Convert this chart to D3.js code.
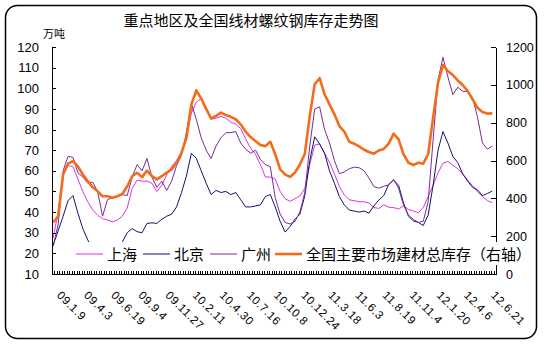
<!DOCTYPE html>
<html>
<head>
<meta charset="utf-8">
<script src="https://cdn.jsdelivr.net/npm/d3@7"></script>
<style>
  html, body { margin: 0; padding: 0; background: #fff; }
  svg { display: block; }
</style>
</head>
<body>
<svg id="chart" width="549" height="345"></svg>
<script>
// Weekly category axis: 180 weeks, one label every 11 weeks
const weekCount = 180;
const labelStep = 11;
const tickLabels = ["09.1.9", "09.4.3", "09.6.19", "09.9.4", "09.11.27", "10.2.11", "10.4.30",
  "10.7.16", "10.10.8", "10.12.24", "11.3.18", "11.6.3", "11.8.19", "11.11.4", "12.1.20",
  "12.4.6", "12.6.21"];

// Series sampled every second week (万吨)
const sampleStep = 2;
const shanghai = [27.5, 40, 58.5, 62.5, 62, 56, 50, 45, 41, 38.5,
  36.8, 36.2, 35.3, 36.2, 38, 42, 51.5, 55.5, 55, 55,
  54, 50, 53, 58, 62, 65, 69, 76, 88, 93.3,
  95, 91, 85, 85.5, 86.4, 85.5, 83.5, 82.6, 80.5, 75.5,
  71, 68, 63, 57, 57, 56, 50, 46.5, 45.2, 46.5,
  47.8, 51.5, 63, 72.5, 73, 68.5, 64.2, 58.5, 52.4, 48.3,
  46, 45.5, 45, 45, 44.5, 42.2, 41.8, 43.5, 42.4, 42.2,
  41.5, 43, 41.3, 40.5, 39.7, 42.2, 47.5, 53, 59, 63.7,
  64.5, 62.8, 61, 58.5, 55.5, 52.8, 49.8, 47.6, 45.6, 44.5];
const beijing = [24, 31, 38, 45.5, 48, 39.5, 32, 26.5, 22, 21,
  21, 21.5, 25.5, 22, 25.5, 30, 32, 30.5, 30, 34.5,
  34.8, 34.5, 36.5, 38, 39, 42.5, 49.5, 57.5, 68.5, 66,
  60, 54, 48.5, 50.5, 49.5, 50, 48.5, 49.5, 46, 42.5,
  42.5, 43, 43.5, 47.5, 48.5, 42.5, 35.5, 30.3, 33, 36.5,
  39, 48, 65, 76.5, 73, 68.5, 60, 54, 47.5, 43.5,
  41, 40.5, 40, 40.5, 39.5, 43, 45.8, 48, 53.5, 55.5,
  53, 44.5, 38, 35.7, 35, 33.5, 38.5, 53, 70, 79,
  73.5, 67, 64, 58.5, 55, 52, 50.8, 48, 49, 50.2];
const guangzhou = [23.5, 34, 60, 67, 66.5, 59, 57, 54, 54.5, 50,
  38, 46, 47, 47.5, 48.5, 48, 57, 63, 60, 66,
  57, 52, 55, 50.5, 55, 62.5, 67.5, 78.5, 92.5, 85,
  76, 70, 66, 72, 76, 78.5, 78.5, 79, 73.5, 70.5,
  68.5, 70, 65.5, 63, 62, 47, 39, 35, 34.2, 35.5,
  40, 49.5, 72, 90, 91, 80, 73.5, 65, 58.6, 59.5,
  61, 61.8, 61.5, 60, 56.5, 52.4, 51.6, 52.5, 53.2, 55.8,
  51.5, 43.5, 38.5, 36.5, 35, 35.5, 45, 75, 104, 115,
  105.5, 97, 100.5, 98.5, 98.5, 95.5, 86, 73.5, 70.5, 72];
// National building-material inventory, right axis (万吨)
const national = [273, 305, 526, 583, 597, 569, 526, 491, 458, 437,
  411, 411, 403, 411, 423, 464, 517, 535, 512, 547,
  517, 500, 517, 536, 553, 588, 641, 720, 897, 971,
  928, 871, 823, 836, 853, 840, 831, 818, 791, 753,
  724, 703, 682, 676, 699, 633, 553, 527, 513, 536,
  579, 636, 836, 1003, 1035, 950, 897, 844, 782, 753,
  699, 689, 675, 657, 645, 636, 653, 661, 689, 742,
  712, 633, 588, 576, 588, 583, 633, 827, 1011, 1105,
  1073, 1052, 1023, 999, 968, 923, 879, 856, 848, 849];

const leftTicks = d3.range(10, 121, 10);
const rightTicks = d3.range(0, 1201, 200);

const titleText = "重点地区及全国线材螺纹钢库存走势图";
const unitText = "万吨";
const seriesInfo = [
  { name: "上海", values: shanghai, color: "#dd33dd", width: 1, axis: "left" },
  { name: "北京", values: beijing, color: "#12126e", width: 1, axis: "left" },
  { name: "广州", values: guangzhou, color: "#7a2a98", width: 1, axis: "left" },
  { name: "全国主要市场建材总库存（右轴）", values: national, color: "#f26c1c", width: 2.6, axis: "right" }
];

const svg = d3.select("#chart");
const latin = "'Liberation Sans', Arial, sans-serif";
const cjk = "'Noto Sans CJK SC', 'Noto Sans', sans-serif";

const plot = { left: 52, right: 496, top: 47, bottom: 274 };

const x = d3.scaleBand().domain(d3.range(weekCount)).range([plot.left, plot.right]);
const xEdge = d3.scaleLinear().domain([0, weekCount]).range([plot.left, plot.right]);
const yL = d3.scaleLinear().domain([10, 120]).range([plot.bottom, plot.top]);
const yR = d3.scaleLinear().domain([0, 1200]).range([plot.bottom, plot.top]);

// Outer frame
svg.append("rect")
  .attr("x", 5.5).attr("y", 5.5).attr("width", 531).attr("height", 333)
  .attr("rx", 12).attr("ry", 12)
  .attr("fill", "#fff").attr("stroke", "#000").attr("stroke-width", 1.5);

// Title
svg.append("text")
  .attr("x", 251).attr("y", 26)
  .attr("text-anchor", "middle")
  .attr("font-family", cjk).attr("font-size", 15)
  .text(titleText);

svg.append("text")
  .attr("x", 43).attr("y", 38)
  .attr("font-family", cjk).attr("font-size", 11)
  .text(unitText);

// Lines
const sx = (d, i) => x(i * sampleStep) + x.bandwidth() / 2;
const gLines = svg.append("g");
seriesInfo.forEach(s => {
  const yScale = s.axis === "left" ? yL : yR;
  const line = d3.line().x(sx).y(d => yScale(d));
  gLines.append("path")
    .datum(s.values)
    .attr("d", line)
    .attr("fill", "none")
    .attr("stroke", s.color)
    .attr("stroke-width", s.width)
    .attr("stroke-linejoin", "round");
});

// Left axis
const axL = svg.append("g")
  .attr("transform", `translate(${plot.left},0)`)
  .call(d3.axisLeft(yL).tickValues(leftTicks).tickSizeInner(-4).tickSizeOuter(0).tickPadding(13));
// Right axis
const axR = svg.append("g")
  .attr("transform", `translate(${plot.right},0)`)
  .call(d3.axisRight(yR).tickValues(rightTicks).tickFormat(d3.format("d"))
    .tickSizeInner(-5).tickSizeOuter(0).tickPadding(10));
// Bottom axis with a tick at every week boundary
const axB = svg.append("g")
  .attr("transform", `translate(0,${plot.bottom})`)
  .call(d3.axisBottom(xEdge).tickValues(d3.range(0, weekCount + 1)).tickSizeInner(-3).tickSizeOuter(0).tickFormat(""));

[axL, axR, axB].forEach(g => {
  g.selectAll("path, line").attr("stroke", "#000").attr("shape-rendering", "crispEdges");
  g.selectAll("text").attr("font-family", latin).attr("font-size", 13).attr("fill", "#000");
});
axR.selectAll("text").attr("font-size", 12.5);

// Rotated week labels
svg.append("g").selectAll("text")
  .data(tickLabels)
  .join("text")
  .attr("transform", (d, i) => {
    const cx = x(i * labelStep) + x.bandwidth() / 2 + 3;
    return `translate(${cx},296) rotate(45)`;
  })
  .attr("font-family", latin).attr("font-size", 11.5)
  .attr("letter-spacing", 0.6)
  .text(d => d);

// Legend on a white box over the lower plot area
const legend = svg.append("g");
legend.append("rect")
  .attr("x", 72).attr("y", 242).attr("width", 453).attr("height", 23)
  .attr("fill", "#fff");
const legendX = [76, 143, 210, 275];
seriesInfo.forEach((s, i) => {
  const lx = legendX[i];
  legend.append("line")
    .attr("x1", lx).attr("x2", lx + 27).attr("y1", 254).attr("y2", 254)
    .attr("stroke", s.color).attr("stroke-width", s.width);
  legend.append("text")
    .attr("x", lx + 31).attr("y", 259.5)
    .attr("font-family", cjk).attr("font-size", 15)
    .text(s.name);
});
</script>
</body>
</html>
